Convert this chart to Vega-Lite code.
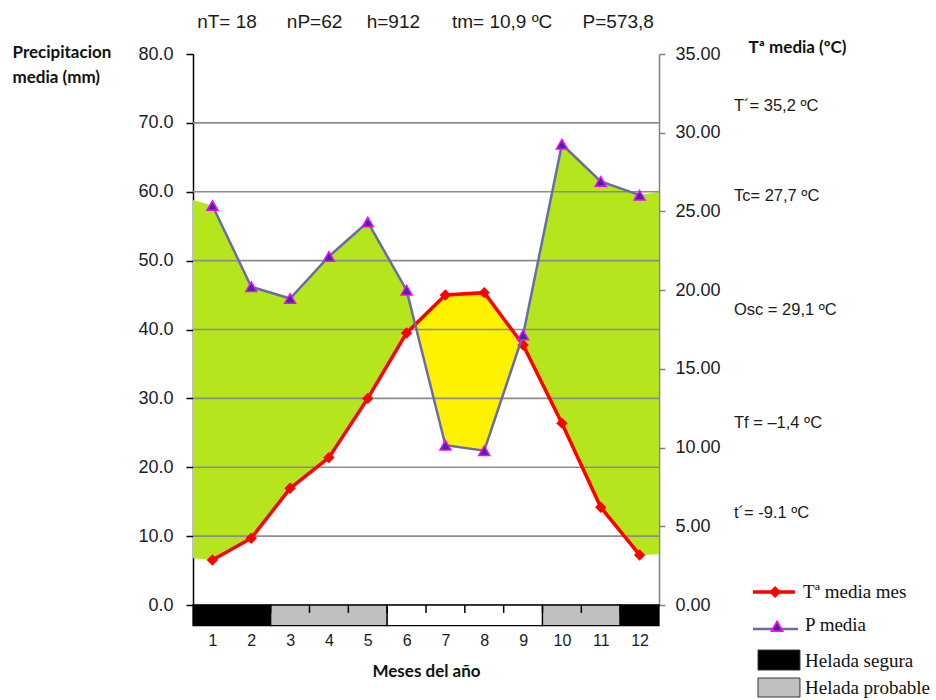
{
  "$schema": "https://vega.github.io/schema/vega-lite/v6.json",
  "width": 466,
  "height": 551,
  "autosize": {"type": "none"},
  "padding": {"left": 193, "top": 54, "right": 277, "bottom": 95},
  "background": "white",
  "config": {"view": {"stroke": null}, "font": "Liberation Sans"},
  "datasets": {
    "meses": [
      {"mes": 1, "P": 58.0, "T": 2.86, "Tmm": 6.53},
      {"mes": 2, "P": 46.2, "T": 4.24, "Tmm": 9.69},
      {"mes": 3, "P": 44.5, "T": 7.41, "Tmm": 16.94},
      {"mes": 4, "P": 50.6, "T": 9.36, "Tmm": 21.4},
      {"mes": 5, "P": 55.6, "T": 13.12, "Tmm": 30.0},
      {"mes": 6, "P": 45.7, "T": 17.28, "Tmm": 39.5},
      {"mes": 7, "P": 23.2, "T": 19.69, "Tmm": 45.0},
      {"mes": 8, "P": 22.4, "T": 19.84, "Tmm": 45.35},
      {"mes": 9, "P": 39.2, "T": 16.52, "Tmm": 37.76},
      {"mes": 10, "P": 66.9, "T": 11.55, "Tmm": 26.4},
      {"mes": 11, "P": 61.5, "T": 6.21, "Tmm": 14.2},
      {"mes": 12, "P": 59.5, "T": 3.18, "Tmm": 7.27}
    ],
    "humedo": [
      {"x": 0.5, "top": 58.8, "bot": 6.8},
      {"x": 1, "top": 58.0, "bot": 6.53},
      {"x": 2, "top": 46.2, "bot": 9.69},
      {"x": 3, "top": 44.5, "bot": 16.94},
      {"x": 4, "top": 50.6, "bot": 21.4},
      {"x": 5, "top": 55.6, "bot": 30.0},
      {"x": 6, "top": 45.7, "bot": 39.5},
      {"x": 7, "top": 23.2, "bot": 45.0},
      {"x": 8, "top": 22.4, "bot": 45.35},
      {"x": 9, "top": 39.2, "bot": 37.76},
      {"x": 10, "top": 66.9, "bot": 26.4},
      {"x": 11, "top": 61.5, "bot": 14.2},
      {"x": 12, "top": 59.5, "bot": 7.27},
      {"x": 12.5, "top": 60.0, "bot": 7.36}
    ],
    "seco": [
      {"x": 6.22, "top": 40.7, "bot": 40.7},
      {"x": 7, "top": 45.0, "bot": 23.2},
      {"x": 8, "top": 45.35, "bot": 22.4},
      {"x": 8.94, "top": 38.2, "bot": 38.2}
    ],
    "grid": [{"v": 10}, {"v": 20}, {"v": 30}, {"v": 40}, {"v": 50}, {"v": 60}, {"v": 70}],
    "helada": [
      {"desde": 0.5, "hasta": 2.5, "tipo": "segura"},
      {"desde": 2.5, "hasta": 5.5, "tipo": "probable"},
      {"desde": 5.5, "hasta": 9.5, "tipo": "libre"},
      {"desde": 9.5, "hasta": 11.5, "tipo": "probable"},
      {"desde": 11.5, "hasta": 12.5, "tipo": "segura"}
    ],
    "limites": [{"x": 1.5}, {"x": 2.5}, {"x": 3.5}, {"x": 4.5}, {"x": 5.5}, {"x": 6.5}, {"x": 7.5}, {"x": 8.5}, {"x": 9.5}, {"x": 10.5}, {"x": 11.5}],
    "cabecera": [
      {"x": 1.376, "label": "nT= 18"},
      {"x": 3.63, "label": "nP=62"},
      {"x": 5.66, "label": "h=912"},
      {"x": 8.46, "label": "tm= 10,9 ºC"},
      {"x": 11.45, "label": "P=573,8"}
    ],
    "notas": [
      {"y": 72.45, "label": "T´= 35,2 ºC"},
      {"y": 59.38, "label": "Tc= 27,7 ºC"},
      {"y": 42.83, "label": "Osc = 29,1 ºC"},
      {"y": 26.42, "label": "Tf = –1,4 ºC"},
      {"y": 13.35, "label": "t´= -9.1 ºC"}
    ],
    "legT": [{"x": 14.92, "y": 1.89}, {"x": 16.0, "y": 1.89}],
    "legP": [{"x": 14.92, "y": -3.48}, {"x": 16.08, "y": -3.48}],
    "legCajas": [
      {"x1": 15.05, "x2": 16.13, "y1": -6.54, "y2": -9.44, "tipo": "segura"},
      {"x1": 15.05, "x2": 16.13, "y1": -10.6, "y2": -13.36, "tipo": "probable"}
    ],
    "legTextos": [
      {"x": 16.21, "y": 1.89, "label": "Tª media mes"},
      {"x": 16.26, "y": -2.9, "label": "P media"},
      {"x": 16.26, "y": -8.1, "label": "Helada segura"},
      {"x": 16.26, "y": -12.1, "label": "Helada probable"}
    ]
  },
  "resolve": {"scale": {"y": "independent"}},
  "layer": [
    {
      "layer": [
        {
          "data": {"name": "humedo"},
          "mark": {"type": "area", "color": "#b5e61d", "opacity": 1},
          "encoding": {
            "x": {
              "field": "x", "type": "quantitative",
              "scale": {"domain": [0.5, 12.5], "nice": false, "zero": false},
              "axis": {
                "values": [1, 2, 3, 4, 5, 6, 7, 8, 9, 10, 11, 12],
                "format": "d",
                "ticks": false, "tickSize": 0, "grid": false,
                "domain": true, "domainColor": "#000000", "domainWidth": 1.5,
                "labelPadding": 27, "labelFontSize": 16, "labelColor": "#1a1a2a",
                "labelFont": "Liberation Sans",
                "title": "Meses del año", "titleFont": "Lato", "titleFontWeight": "bold",
                "titleFontSize": 17, "titleColor": "#111111",
                "titleY": 66, "titleBaseline": "middle"
              }
            },
            "y": {
              "field": "top", "type": "quantitative",
              "scale": {"domain": [0, 80], "nice": false, "zero": false},
              "axis": {
                "orient": "left",
                "values": [0, 10, 20, 30, 40, 50, 60, 70, 80],
                "format": ".1f", "grid": false,
                "tickSize": 7, "tickColor": "#000000", "tickWidth": 1.5,
                "domainColor": "#000000", "domainWidth": 1.5,
                "labelPadding": 13, "labelFontSize": 18, "labelColor": "#1a1a2a",
                "labelFont": "Liberation Sans",
                "title": ["Precipitacion", "media (mm)"],
                "titleFont": "Lato", "titleFontWeight": "bold", "titleFontSize": 17,
                "titleColor": "#111111",
                "titleAngle": 0, "titleAlign": "left", "titleBaseline": "middle",
                "titleX": -181, "titleY": -2, "titleLineHeight": 25
              }
            },
            "y2": {"field": "bot"}
          }
        },
        {
          "data": {"name": "seco"},
          "mark": {"type": "area", "color": "#fff200", "opacity": 1},
          "encoding": {
            "x": {"field": "x", "type": "quantitative"},
            "y": {"field": "top", "type": "quantitative"},
            "y2": {"field": "bot"}
          }
        },
        {
          "data": {"name": "grid"},
          "mark": {"type": "rule", "color": "#8c8c8c", "strokeWidth": 1.6},
          "encoding": {"y": {"field": "v", "type": "quantitative"}}
        },
        {
          "data": {"name": "helada"},
          "mark": {"type": "rect", "stroke": "#000000", "strokeWidth": 1.3},
          "encoding": {
            "x": {"field": "desde", "type": "quantitative"},
            "x2": {"field": "hasta"},
            "y": {"datum": 0},
            "y2": {"datum": -3},
            "color": {
              "field": "tipo", "type": "nominal",
              "scale": {"domain": ["segura", "probable", "libre"], "range": ["#000000", "#c0c0c0", "#ffffff"]},
              "legend": null
            }
          }
        },
        {
          "data": {"name": "limites"},
          "mark": {"type": "rule", "color": "#000000", "strokeWidth": 1.5},
          "encoding": {
            "x": {"field": "x", "type": "quantitative"},
            "y": {"datum": 0},
            "y2": {"datum": -1.15}
          }
        },
        {
          "data": {"name": "meses"},
          "mark": {
            "type": "line", "color": "#ff0000", "strokeWidth": 3.5,
            "point": {"shape": "diamond", "size": 130, "filled": true, "color": "#ff0000"}
          },
          "encoding": {
            "x": {"field": "mes", "type": "quantitative"},
            "y": {"field": "Tmm", "type": "quantitative"}
          }
        },
        {
          "data": {"name": "meses"},
          "mark": {
            "type": "line", "color": "#6b6ba8", "strokeWidth": 2.5,
            "point": {"shape": "triangle-up", "size": 120, "filled": true, "fill": "#3a2fa0", "stroke": "#ff00ff", "strokeWidth": 1.5}
          },
          "encoding": {
            "x": {"field": "mes", "type": "quantitative"},
            "y": {"field": "P", "type": "quantitative"}
          }
        },
        {
          "data": {"name": "cabecera"},
          "mark": {"type": "text", "font": "Liberation Sans", "fontSize": 19, "color": "#1a1a1a", "align": "center", "baseline": "middle"},
          "encoding": {
            "x": {"field": "x", "type": "quantitative"},
            "y": {"datum": 84.65},
            "text": {"field": "label"}
          }
        },
        {
          "data": {"name": "notas"},
          "mark": {"type": "text", "font": "Liberation Sans", "fontSize": 16.5, "color": "#1a1a1a", "align": "left", "baseline": "middle"},
          "encoding": {
            "x": {"datum": 14.43},
            "y": {"field": "y", "type": "quantitative"},
            "text": {"field": "label"}
          }
        },
        {
          "data": {"name": "legT"},
          "mark": {"type": "line", "color": "#ff0000", "strokeWidth": 3.5},
          "encoding": {
            "x": {"field": "x", "type": "quantitative"},
            "y": {"field": "y", "type": "quantitative"}
          }
        },
        {
          "data": {"name": "legP"},
          "mark": {"type": "line", "color": "#6b6ba8", "strokeWidth": 2.5},
          "encoding": {
            "x": {"field": "x", "type": "quantitative"},
            "y": {"field": "y", "type": "quantitative"}
          }
        },
        {
          "data": {"name": "legT"},
          "mark": {"type": "point", "shape": "diamond", "size": 130, "filled": true, "color": "#ff0000", "opacity": 1},
          "encoding": {
            "x": {"datum": 15.49},
            "y": {"datum": 1.89}
          }
        },
        {
          "data": {"name": "legP"},
          "mark": {"type": "point", "shape": "triangle-up", "size": 120, "filled": true, "fill": "#3a2fa0", "stroke": "#ff00ff", "strokeWidth": 1.5, "opacity": 1},
          "encoding": {
            "x": {"datum": 15.54},
            "y": {"datum": -3.1}
          }
        },
        {
          "data": {"name": "legCajas"},
          "mark": {"type": "rect", "stroke": "#333333", "strokeWidth": 1},
          "encoding": {
            "x": {"field": "x1", "type": "quantitative"},
            "x2": {"field": "x2"},
            "y": {"field": "y1", "type": "quantitative"},
            "y2": {"field": "y2"},
            "color": {
              "field": "tipo", "type": "nominal",
              "scale": {"domain": ["segura", "probable", "libre"], "range": ["#000000", "#c0c0c0", "#ffffff"]},
              "legend": null
            }
          }
        },
        {
          "data": {"name": "legTextos"},
          "mark": {"type": "text", "font": "Liberation Serif", "fontSize": 19, "color": "#111111", "align": "left", "baseline": "middle"},
          "encoding": {
            "x": {"field": "x", "type": "quantitative"},
            "y": {"field": "y", "type": "quantitative"},
            "text": {"field": "label"}
          }
        }
      ]
    },
    {
      "data": {"name": "meses"},
      "mark": {"type": "point", "opacity": 0},
      "encoding": {
        "x": {"field": "mes", "type": "quantitative"},
        "y": {
          "field": "T", "type": "quantitative",
          "scale": {"domain": [0, 35], "nice": false, "zero": false},
          "axis": {
            "orient": "right",
            "values": [0, 5, 10, 15, 20, 25, 30, 35],
            "format": ".2f", "grid": false,
            "tickSize": 6, "tickColor": "#808080", "tickWidth": 1.5,
            "domainColor": "#808080", "domainWidth": 1.5,
            "labelPadding": 10, "labelFontSize": 18, "labelColor": "#1a1a2a",
            "labelFont": "Liberation Sans",
            "title": "Tª media (ºC)",
            "titleFont": "Lato", "titleFontWeight": "bold", "titleFontSize": 17,
            "titleColor": "#111111",
            "titleAngle": 0, "titleAlign": "left", "titleBaseline": "middle",
            "titleX": 89, "titleY": -7
          }
        }
      }
    }
  ]
}
